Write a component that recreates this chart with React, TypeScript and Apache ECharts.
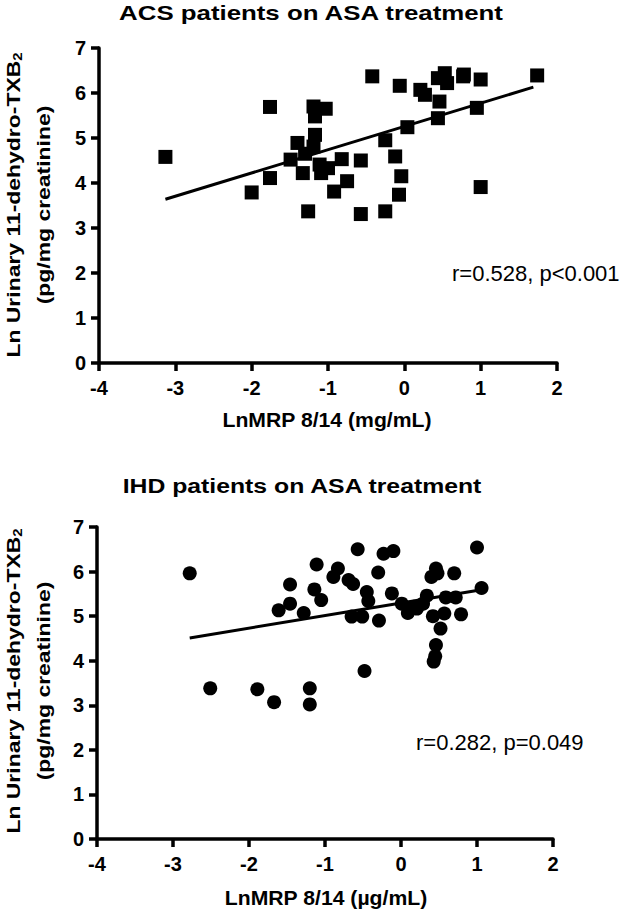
import React, { useEffect, useRef } from "react";
import * as echarts from "echarts";

const FONT = "'Liberation Sans', Arial, Helvetica, sans-serif";

// ACS (top panel) – squares
const acsX = [-3.13, -2.0, -1.76, -1.76, -1.4, -1.49, -1.33, -1.26, -1.19, -1.17, -1.17, -1.19, -1.03, -1.11, -1.09, -1.0, -0.92, -0.82, -0.75, -0.57, -0.57, -0.42, -0.25, -0.25, -0.12, -0.07, -0.04, -0.06, 0.04, 0.21, 0.27, 0.44, 0.46, 0.44, 0.53, 0.56, 0.77, 0.78, 1.0, 0.95, 1.0, 1.74, -1.3];
const acsY = [4.58, 3.79, 4.11, 5.69, 4.89, 4.52, 4.22, 3.37, 5.7, 5.48, 5.07, 4.81, 5.65, 4.41, 4.22, 4.33, 3.81, 4.53, 4.04, 4.5, 3.31, 6.37, 3.37, 4.95, 4.59, 3.74, 4.15, 6.16, 5.24, 6.07, 5.96, 5.44, 5.81, 6.33, 6.44, 6.22, 6.37, 6.41, 6.3, 5.67, 3.91, 6.39, 4.65];
const acsLineX = [-3.13, 1.69];
const acsLineY = [3.64, 6.13];

// IHD (bottom panel) – circles
const ihdX = [-2.78, -2.51, -1.89, -1.67, -1.61, -1.46, -1.46, -1.28, -1.2, -1.2, -1.14, -1.11, -1.05, -0.89, -0.83, -0.69, -0.63, -0.65, -0.57, -0.51, -0.48, -0.45, -0.43, -0.29, -0.3, -0.23, -0.1, -0.12, 0.01, 0.09, 0.17, 0.21, 0.29, 0.34, 0.4, 0.42, 0.46, 0.48, 0.46, 0.45, 0.43, 0.52, 0.57, 0.59, 0.7, 0.72, 0.79, 1.0, 1.06];
const ihdY = [5.96, 3.38, 3.36, 3.07, 5.13, 5.71, 5.28, 5.07, 3.38, 3.02, 5.6, 6.16, 5.36, 5.88, 6.07, 5.81, 5.72, 4.99, 6.5, 4.99, 3.77, 5.54, 5.34, 4.9, 5.98, 6.4, 6.46, 5.51, 5.28, 5.07, 5.21, 5.17, 5.28, 5.46, 5.88, 5.0, 6.07, 5.96, 4.35, 4.1, 3.98, 4.72, 5.06, 5.42, 5.96, 5.42, 5.04, 6.54, 5.63];
const ihdLineX = [-2.78, 1.08];
const ihdLineY = [4.51, 5.6];

const titles = ["ACS patients on ASA treatment", "IHD patients on ASA treatment"];
const xNames = ["LnMRP 8/14 (mg/mL)", "LnMRP 8/14 (\u00b5g/mL)"];
const stats = ["r=0.528, p<0.001", "r=0.282, p=0.049"];
const yName1 = "Ln Urinary 11-dehydro-TXB";
const yName2 = "(pg/mg creatinine)";

const zip = (xs: number[], ys: number[]) => xs.map((x, i) => [x, ys[i]]);

export default function App() {
  const ref = useRef<HTMLDivElement>(null);
  useEffect(() => {
    if (!ref.current) return;
    const chart = echarts.init(ref.current, null, { renderer: "svg" });
    const axisCommon = {
      axisLine: { show: true, onZero: false, lineStyle: { color: "#000", width: 3.5 } },
      axisTick: { show: true, inside: false, length: 8, lineStyle: { color: "#000", width: 3.5 } },
      splitLine: { show: false },
      axisLabel: { color: "#000", fontSize: 20, fontWeight: "bold", fontFamily: FONT },
    };
    const xAxis = (gi: number) => ({
      type: "value",
      gridIndex: gi,
      min: -4,
      max: 2,
      interval: 1,
      ...axisCommon,
      axisLabel: { ...axisCommon.axisLabel, margin: 15 },
    });
    const yAxis = (gi: number) => ({
      type: "value",
      gridIndex: gi,
      min: 0,
      max: 7,
      interval: 1,
      ...axisCommon,
      axisLabel: { ...axisCommon.axisLabel, margin: 13 },
    });
    const boldText = (text: string, x: number, y: number, size: number, sx: number, rot = 0) => ({
      type: "text",
      x,
      y,
      rotation: rot,
      scaleX: sx,
      style: {
        text,
        align: "center",
        verticalAlign: "middle",
        fill: "#000",
        font: `bold ${size}px ${FONT}`,
      },
    });
    const yTitle = (cy: number) => [
      {
        type: "text",
        x: 13,
        y: cy,
        rotation: Math.PI / 2,
        scaleX: 1.24,
        style: {
          text: `{a|${yName1}}{s|2}`,
          align: "center",
          verticalAlign: "middle",
          fill: "#000",
          rich: {
            a: { fontSize: 18.5, fontWeight: "bold", fontFamily: FONT, fill: "#000" },
            s: { fontSize: 12, fontWeight: "bold", fontFamily: FONT, fill: "#000", padding: [9, 0, 0, 0] },
          },
        },
      },
      boldText(yName2, 43, cy, 18.5, 1.24, Math.PI / 2),
    ];
    chart.setOption({
      animation: false,
      backgroundColor: "#fff",
      grid: [
        { left: 99, right: 65, top: 48, height: 315 },
        { left: 97, right: 69, top: 527, height: 312 },
      ],
      xAxis: [xAxis(0), xAxis(1)],
      yAxis: [yAxis(0), yAxis(1)],
      series: [
        {
          type: "scatter",
          xAxisIndex: 0,
          yAxisIndex: 0,
          symbol: "rect",
          symbolSize: 14,
          itemStyle: { color: "#000", opacity: 1 },
          data: zip(acsX, acsY),
        },
        {
          type: "line",
          xAxisIndex: 0,
          yAxisIndex: 0,
          symbol: "none",
          lineStyle: { color: "#000", width: 3 },
          data: zip(acsLineX, acsLineY),
        },
        {
          type: "scatter",
          xAxisIndex: 1,
          yAxisIndex: 1,
          symbol: "circle",
          symbolSize: 14,
          itemStyle: { color: "#000", opacity: 1 },
          data: zip(ihdX, ihdY),
        },
        {
          type: "line",
          xAxisIndex: 1,
          yAxisIndex: 1,
          symbol: "none",
          lineStyle: { color: "#000", width: 3 },
          data: zip(ihdLineX, ihdLineY),
        },
      ],
      graphic: [
        boldText(titles[0], 311, 13, 21, 1.23),
        boldText(titles[1], 302, 486, 21, 1.18),
        boldText(xNames[0], 327, 420, 20, 1.06),
        boldText(xNames[1], 326, 898, 20, 1.06),
        ...yTitle(205),
        ...yTitle(681),
        {
          type: "text",
          x: 452,
          y: 273,
          style: { text: stats[0], fill: "#000", font: `22px ${FONT}`, verticalAlign: "middle" },
        },
        {
          type: "text",
          x: 416,
          y: 742,
          style: { text: stats[1], fill: "#000", font: `22px ${FONT}`, verticalAlign: "middle" },
        },
      ],
    });
    return () => chart.dispose();
  }, []);
  return (
    <div
      ref={ref}
      style={{ position: "fixed", left: 0, top: 0, width: 622, height: 912, background: "#fff" }}
    />
  );
}
